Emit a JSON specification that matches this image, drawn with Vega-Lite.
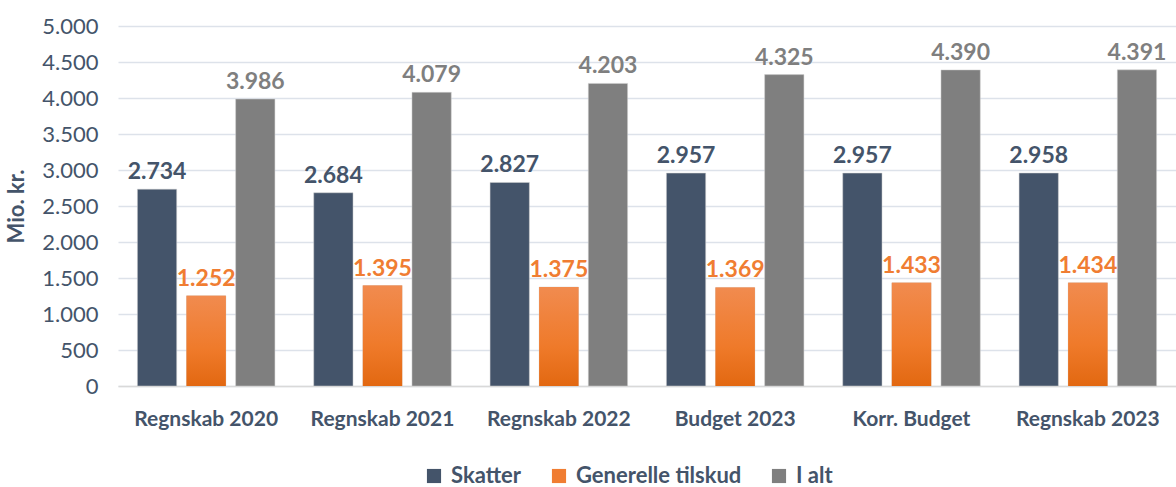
{
  "$schema": "https://vega.github.io/schema/vega-lite/v6.json",
  "autosize": "none",
  "width": 1058,
  "height": 360,
  "padding": {"left": 118, "top": 26, "right": 0, "bottom": 101},
  "background": "white",
  "config": {
    "locale": {"number": {"decimal": ",", "thousands": ".", "grouping": [3], "currency": ["", " kr."]}},
    "font": "Lato",
    "view": {"stroke": null},
    "legend": {"labelFontWeight": 700}
  },
  "data": {
    "values": [
      {"kat": "Regnskab 2020", "serie": "Skatter", "v": 2734},
      {"kat": "Regnskab 2020", "serie": "Generelle tilskud", "v": 1252},
      {"kat": "Regnskab 2020", "serie": "I alt", "v": 3986},
      {"kat": "Regnskab 2021", "serie": "Skatter", "v": 2684},
      {"kat": "Regnskab 2021", "serie": "Generelle tilskud", "v": 1395},
      {"kat": "Regnskab 2021", "serie": "I alt", "v": 4079},
      {"kat": "Regnskab 2022", "serie": "Skatter", "v": 2827},
      {"kat": "Regnskab 2022", "serie": "Generelle tilskud", "v": 1375},
      {"kat": "Regnskab 2022", "serie": "I alt", "v": 4203},
      {"kat": "Budget 2023", "serie": "Skatter", "v": 2957},
      {"kat": "Budget 2023", "serie": "Generelle tilskud", "v": 1369},
      {"kat": "Budget 2023", "serie": "I alt", "v": 4325},
      {"kat": "Korr. Budget", "serie": "Skatter", "v": 2957},
      {"kat": "Korr. Budget", "serie": "Generelle tilskud", "v": 1433},
      {"kat": "Korr. Budget", "serie": "I alt", "v": 4390},
      {"kat": "Regnskab 2023", "serie": "Skatter", "v": 2958},
      {"kat": "Regnskab 2023", "serie": "Generelle tilskud", "v": 1434},
      {"kat": "Regnskab 2023", "serie": "I alt", "v": 4391}
    ]
  },
  "encoding": {
    "x": {
      "field": "kat", "type": "nominal", "sort": null,
      "scale": {"paddingInner": 0.22, "paddingOuter": 0.11},
      "axis": {
        "title": null, "labelAngle": 0, "labelFont": "Lato", "labelFontSize": 21, "labelFontWeight": "bold",
        "labelColor": "#44546A", "labelPadding": 22, "ticks": false, "domainColor": "#D9D9D9", "domainWidth": 1.5
      }
    },
    "xOffset": {
      "field": "serie", "type": "nominal", "sort": ["Skatter", "Generelle tilskud", "I alt"],
      "scale": {"paddingInner": 0.2}
    },
    "y": {
      "field": "v", "type": "quantitative",
      "scale": {"domain": [0, 5000], "nice": false},
      "axis": {
        "title": "Mio. kr.", "titleFont": "Lato", "titleFontSize": 22, "titleFontWeight": "bold", "titleColor": "#44546A",
        "titlePadding": 13, "values": [0, 500, 1000, 1500, 2000, 2500, 3000, 3500, 4000, 4500, 5000],
        "format": ",d", "labelFont": "Lato", "labelFontSize": 22, "labelColor": "#44546A", "labelPadding": 20,
        "ticks": false, "domain": false, "gridColor": "#DDE2EA", "gridWidth": 1.5
      }
    }
  },
  "layer": [
    {
      "mark": {"type": "bar", "stroke": "#D0D0D0", "strokeWidth": 0.5},
      "encoding": {
        "color": {
          "field": "serie", "type": "nominal",
          "scale": {"domain": ["Skatter", "Generelle tilskud", "I alt"], "range": ["#44546A", "#F07D32", "#7F7F7F"]},
          "legend": {
            "title": null, "orient": "none", "legendX": 305, "legendY": 439, "direction": "horizontal", "symbolType": "square", "symbolSize": 200,
            "labelFont": "Lato", "labelFontSize": 22, "labelFontWeight": 700, "labelColor": "#44546A", "labelOffset": 6,
            "labelLimit": 400, "columnPadding": 26, "symbolStrokeWidth": 0
          }
        }
      }
    },
    {
      "transform": [{"filter": "datum.serie === 'Generelle tilskud'"}],
      "mark": {
        "type": "bar",
        "color": {
          "gradient": "linear", "x1": 0, "y1": 0, "x2": 0, "y2": 1,
          "stops": [{"offset": 0, "color": "#F18B4F"}, {"offset": 0.6, "color": "#EF7A2A"}, {"offset": 1, "color": "#E26811"}]
        }
      }
    },
    {
      "mark": {"type": "text", "baseline": "middle", "dy": -17, "fontSize": 23, "fontWeight": "bold", "font": "Lato"},
      "encoding": {
        "text": {"field": "v", "type": "quantitative", "format": ",d"},
        "color": {"field": "serie", "type": "nominal", "legend": null}
      }
    }
  ]
}
